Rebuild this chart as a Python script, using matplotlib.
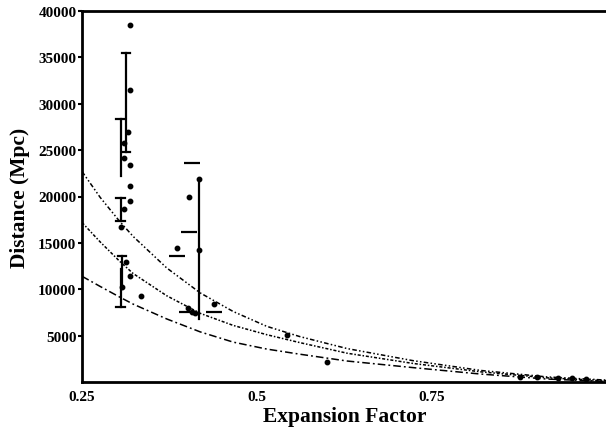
import matplotlib
matplotlib.use("Agg")
import matplotlib.pyplot as plt

# Model curves: distance (Mpc) versus expansion factor
curve_a = [0.25, 0.276, 0.304, 0.323, 0.371, 0.419, 0.466, 0.514, 0.561, 0.629, 0.723, 0.819, 0.914, 1.00]
curve_upper = [22700, 19900, 17300, 15700, 12300, 9600, 7600, 6000, 4900, 3600, 2300, 1250, 550, 200]
curve_middle = [17200, 15100, 13000, 11700, 9300, 7400, 6100, 5100, 4250, 3100, 2000, 1100, 450, 130]
curve_lower = [11400, 10300, 9150, 8400, 6800, 5400, 4300, 3550, 3000, 2260, 1550, 860, 320, 60]

# Individual measurements
pts_a = [0.319, 0.319, 0.316, 0.310, 0.310, 0.318, 0.319, 0.310, 0.319, 0.305, 0.313, 0.318,
         0.307, 0.334, 0.417, 0.403, 0.417, 0.386, 0.407, 0.411, 0.401, 0.438,
         0.543, 0.600, 0.876, 0.90, 0.93, 0.95, 0.97]
pts_d = [38500, 31500, 27000, 25800, 24200, 23400, 21100, 18700, 19500, 16700, 12900, 11400,
         10200, 9300, 21900, 20000, 14200, 14500, 7600, 7400, 8000, 8400,
         5050, 2150, 540, 500, 420, 380, 300]

# Error bars: position, lower and upper limits
err_a = [0.3125, 0.305, 0.305, 0.3075, 0.305, 0.4175]
err_lo = [24800, 22200, 17400, 10000, 8100, 6800]
err_hi = [35500, 28400, 19800, 13600, 12200, 21900]
err_caps = [(True, True), (False, True), (True, True), (False, True), (True, False), (False, False)]

# Stand-alone horizontal marks
mark_a = [0.4075, 0.4025, 0.386, 0.438, 0.400]
mark_d = [23600, 16200, 13600, 7600, 7600]

plt.rcParams['font.family'] = ['Liberation Serif', 'DejaVu Serif']
plt.rcParams['font.weight'] = 'bold'

fig = plt.figure(figsize=(6.06, 4.31), dpi=100)
W, H = 606, 431
ax = fig.add_axes([82 / W, (H - 383) / H, (607 - 82) / W, (383 - 12) / H])

ax.plot(curve_a, curve_upper, color='black', lw=1.1, ls=(0, (3, 1.5, 1, 1.5, 1, 1.5)))
ax.plot(curve_a, curve_middle, color='black', lw=1.1, ls=(0, (2, 1.2, 1, 1.2)))
ax.plot(curve_a, curve_lower, color='black', lw=1.1, ls=(0, (5, 2, 1.2, 2)))

ax.plot(pts_a, pts_d, 'o', color='black', ms=3.2, mec='black')

capw = 0.006
for a, lo, hi, (cap_lo, cap_hi) in zip(err_a, err_lo, err_hi, err_caps):
    ax.plot([a, a], [lo, hi], color='black', lw=1.6)
    if cap_lo:
        ax.plot([a - capw, a + capw], [lo, lo], color='black', lw=1.6)
    if cap_hi:
        ax.plot([a - capw, a + capw], [hi, hi], color='black', lw=1.6)

ax.plot(mark_a, mark_d, '_', color='black', ms=12, mew=1.6)

ax.set_xlim(0.25, 1.0)
ax.set_ylim(0, 40000)
ax.set_xticks([0.25, 0.5, 0.75])
ax.set_xticklabels(['0.25', '0.5', '0.75'])
ax.set_yticks([5000, 10000, 15000, 20000, 25000, 30000, 35000, 40000])
ax.set_yticklabels(['5000', '10000', '15000', '20000', '25000', '30000', '35000', '40000'])

for side in ['left', 'bottom', 'top']:
    ax.spines[side].set_linewidth(2)
ax.spines['right'].set_visible(False)
ax.tick_params(axis='y', direction='out', length=3, width=1.5, labelsize=11, pad=1)
ax.tick_params(axis='x', direction='out', length=0, labelsize=11, pad=6)

ax.set_xlabel('Expansion Factor', fontsize=15.5, fontweight='bold', labelpad=2)
ax.set_ylabel('Distance (Mpc)', fontsize=15.5, fontweight='bold', labelpad=6)

fig.savefig('out.png', dpi=100)
